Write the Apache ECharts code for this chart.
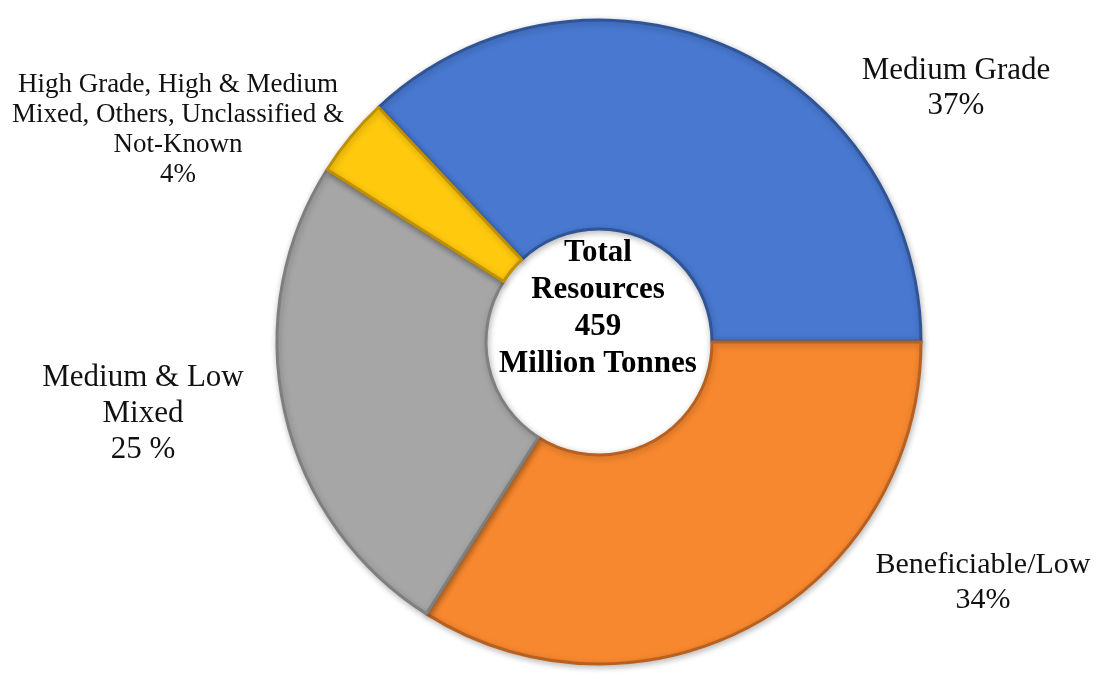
<!DOCTYPE html>
<html>
<head>
<meta charset="utf-8">
<script src="https://cdn.jsdelivr.net/npm/echarts@6/dist/echarts.min.js"></script>
<style>
html,body{margin:0;padding:0;background:#fff;}
#chart{width:1101px;height:686px;}
</style>
</head>
<body>
<div id="chart"></div>
<script>
// ---- data ----
var categories = ['Medium Grade', 'Beneficiable/Low', 'Medium & Low\nMixed', 'High Grade, High & Medium\nMixed, Others, Unclassified &\nNot-Known'];
var shares = [37, 34, 25, 4];
var shareLabels = ['37%', '34%', '25 %', '4%'];
var totalResources = 459;
var totalUnit = 'Million Tonnes';

// ---- styles / layout (not data) ----
var fills = ['#4878D0', '#F7882F', '#A6A6A6', '#FFC90E'];
var borders = ['#2F5597', '#B8601F', '#7F7F7F', '#BF9000'];
var labelPos = [[956, 88], [983, 583], [143, 414], [178, 130]];
var labelSize = [31, 30, 31, 27];
var labelLH = [35, 35, 36, 30];

var chart = echarts.init(document.getElementById('chart'));
var data = categories.map(function (c, i) {
  return {
    name: c,
    value: shares[i],
    itemStyle: {color: fills[i], borderColor: borders[i], borderWidth: 3},
    label: {fontSize: labelSize[i], lineHeight: labelLH[i]}
  };
});

chart.setOption({
  animation: false,
  backgroundColor: '#ffffff',
  series: [{
    type: 'pie',
    center: [599, 342],
    radius: [113, 322],
    startAngle: 133.2,
    clockwise: true,
    data: data,
    itemStyle: {shadowBlur: 6, shadowColor: 'rgba(0,0,0,0.25)', shadowOffsetX: 1, shadowOffsetY: 2},
    label: {
      show: true,
      position: 'outside',
      color: '#111',
      fontFamily: '"Liberation Serif", "Times New Roman", serif',
      align: 'center',
      overflow: 'none',
      width: 400,
      formatter: function (p) { return p.name + '\n' + shareLabels[p.dataIndex]; }
    },
    labelLine: {show: false},
    labelLayout: function (p) {
      var pos = labelPos[p.dataIndex];
      return {x: pos[0], y: pos[1], align: 'center', verticalAlign: 'middle'};
    },
    emphasis: {disabled: true}
  }],
  graphic: [{
    type: 'text',
    x: 598,
    y: 308,
    style: {
      text: 'Total\nResources\n' + totalResources + '\n' + totalUnit,
      fontFamily: '"Liberation Serif", "Times New Roman", serif',
      fontWeight: 'bold',
      fontSize: 31,
      lineHeight: 37,
      fill: '#000',
      align: 'center',
      verticalAlign: 'middle'
    }
  }]
});
</script>
</body>
</html>
